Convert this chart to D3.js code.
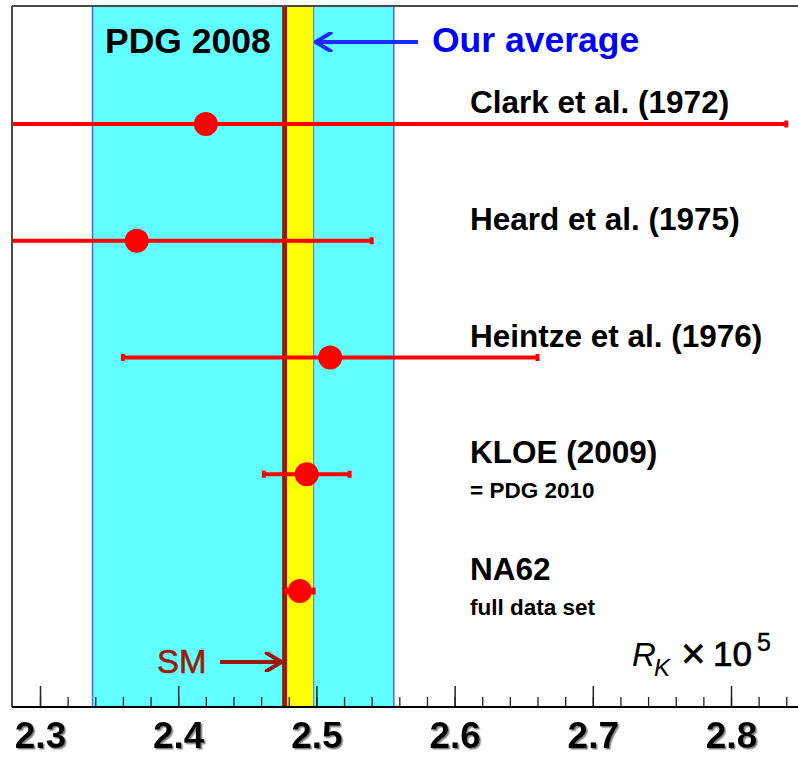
<!DOCTYPE html>
<html>
<head>
<meta charset="utf-8">
<script src="https://cdn.jsdelivr.net/npm/d3@7"></script>
<style>
  html, body { margin: 0; padding: 0; background: #fff; }
  svg { display: block; }
  text { font-family: "Liberation Sans", Arial, Helvetica, sans-serif; }
</style>
</head>
<body>
<svg id="chart" width="798" height="757"></svg>
<script>
// Measurements of R_K = Γ(K→eν)/Γ(K→μν), in units of 1e-5
const experiments = ["Clark et al. (1972)", "Heard et al. (1975)", "Heintze et al. (1976)", "KLOE (2009)", "NA62"];
const subLabels   = ["", "", "", "= PDG 2010", "full data set"];
const rkValues    = [2.42, 2.37, 2.51, 2.493, 2.488];
const rkErrors    = [0.42, 0.17, 0.15, 0.031, 0.010];

// Reference bands and Standard Model expectation
const pdg2008     = { value: 2.447, error: 0.109 };
const ourAverage  = { value: 2.488, error: 0.010 };
const smValue     = 2.477;

// Axis ticks
const majorTicks = [2.3, 2.4, 2.5, 2.6, 2.7, 2.8];
const minorTicks = [2.30, 2.32, 2.34, 2.36, 2.38, 2.40, 2.42, 2.44, 2.46, 2.48, 2.50,
                    2.52, 2.54, 2.56, 2.58, 2.60, 2.62, 2.64, 2.66, 2.68, 2.70,
                    2.72, 2.74, 2.76, 2.78, 2.80, 2.82, 2.84];
const tickLabels = ["2.3", "2.4", "2.5", "2.6", "2.7", "2.8"];

const W = 798, H = 757;
const frame = { left: 12, top: 6, bottom: 707, right: 798 };

const svg = d3.select("#chart");

const x = d3.scaleLinear().domain([2.3, 2.8]).range([40, 731]);
const y = d3.scalePoint().domain(experiments).range([124, 591]);

const defs = svg.append("defs");
defs.append("clipPath").attr("id", "plotClip")
  .append("rect")
  .attr("x", frame.left).attr("y", frame.top)
  .attr("width", frame.right - frame.left).attr("height", frame.bottom - frame.top);

const shadow = defs.append("filter").attr("id", "labelShadow")
  .attr("x", "-20%").attr("y", "-20%").attr("width", "140%").attr("height", "140%");
shadow.append("feDropShadow")
  .attr("dx", 1.5).attr("dy", 1.5).attr("stdDeviation", 0.6)
  .attr("flood-color", "#777").attr("flood-opacity", 0.9);

function arrowHead(color, id) {
  // open chevron marker, tip at the line end
  const m = defs.append("marker").attr("id", id)
    .attr("viewBox", "0 0 20 20").attr("refX", 18).attr("refY", 10)
    .attr("markerWidth", 20).attr("markerHeight", 20)
    .attr("markerUnits", "userSpaceOnUse")
    .attr("orient", "auto");
  m.append("path").attr("d", "M3,1 L18,10 L3,19")
    .attr("fill", "none").attr("stroke", color)
    .attr("stroke-width", 4).attr("stroke-linecap", "round").attr("stroke-linejoin", "round");
}
arrowHead("#1a2cff", "arrowBlue");
arrowHead("#9a1b0e", "arrowRed");

const plot = svg.append("g").attr("clip-path", "url(#plotClip)");

// PDG 2008 band
plot.append("rect")
  .attr("x", x(pdg2008.value - pdg2008.error))
  .attr("y", frame.top)
  .attr("width", x(pdg2008.value + pdg2008.error) - x(pdg2008.value - pdg2008.error))
  .attr("height", frame.bottom - frame.top)
  .attr("fill", "#61ffff");
[pdg2008.value - pdg2008.error, pdg2008.value + pdg2008.error].forEach(v => {
  plot.append("line")
    .attr("x1", x(v)).attr("x2", x(v))
    .attr("y1", frame.top).attr("y2", frame.bottom)
    .attr("stroke", "#4a66ff").attr("stroke-width", 1.5);
});

// Our average band
plot.append("rect")
  .attr("x", x(ourAverage.value - ourAverage.error))
  .attr("y", frame.top)
  .attr("width", x(ourAverage.value + ourAverage.error) - x(ourAverage.value - ourAverage.error))
  .attr("height", frame.bottom - frame.top)
  .attr("fill", "#ffff00");
plot.append("line")
  .attr("x1", x(ourAverage.value + ourAverage.error)).attr("x2", x(ourAverage.value + ourAverage.error))
  .attr("y1", frame.top).attr("y2", frame.bottom)
  .attr("stroke", "#6b86d6").attr("stroke-width", 1.2);

// Standard Model line
plot.append("line")
  .attr("x1", x(smValue)).attr("x2", x(smValue))
  .attr("y1", frame.top).attr("y2", frame.bottom)
  .attr("stroke", "#961b0f").attr("stroke-width", 5);

// Error bars
const pts = experiments.map((name, i) => ({
  name, sub: subLabels[i], v: rkValues[i], e: rkErrors[i]
}));

const bars = plot.append("g");
bars.selectAll("line.err").data(pts).join("line")
  .attr("class", "err")
  .attr("x1", d => x(d.v - d.e)).attr("x2", d => x(d.v + d.e))
  .attr("y1", d => y(d.name)).attr("y2", d => y(d.name))
  .attr("stroke", "#ff0000").attr("stroke-width", 4);

const caps = [];
pts.forEach(d => { caps.push({ name: d.name, at: d.v - d.e }); caps.push({ name: d.name, at: d.v + d.e }); });
bars.selectAll("rect.cap").data(caps).join("rect")
  .attr("class", "cap")
  .attr("x", d => x(d.at) - 2)
  .attr("y", d => y(d.name) - 3.5)
  .attr("width", 4).attr("height", 7)
  .attr("fill", "#ff0000");

bars.selectAll("circle").data(pts).join("circle")
  .attr("cx", d => x(d.v)).attr("cy", d => y(d.name))
  .attr("r", 12).attr("fill", "#ff0000");

// Frame
svg.append("line")
  .attr("x1", frame.left).attr("x2", frame.right)
  .attr("y1", frame.top).attr("y2", frame.top)
  .attr("stroke", "#4a4a4a").attr("stroke-width", 2);
svg.append("line")
  .attr("x1", frame.left).attr("x2", frame.left)
  .attr("y1", frame.top).attr("y2", frame.bottom)
  .attr("stroke", "#4a4a4a").attr("stroke-width", 2);

// X axis: ticks point up into the plot
const axisG = svg.append("g").attr("transform", `translate(0,${frame.bottom})`);
axisG.append("g")
  .call(d3.axisBottom(x).tickValues(minorTicks).tickSize(-10).tickFormat(""))
  .call(g => g.select(".domain").remove())
  .call(g => g.selectAll(".tick line").attr("stroke", "#222").attr("stroke-width", 1.3));
axisG.append("g")
  .call(d3.axisBottom(x).tickValues(majorTicks).tickSize(-21).tickPadding(15)
        .tickFormat((d, i) => tickLabels[i]))
  .call(g => g.select(".domain").remove())
  .call(g => g.selectAll(".tick line").attr("stroke", "#222").attr("stroke-width", 1.5))
  .call(g => g.selectAll(".tick text")
        .attr("font-family", "'Liberation Sans', Arial, sans-serif")
        .attr("font-size", 37).attr("font-weight", "bold").attr("fill", "#000")
        .attr("filter", "url(#labelShadow)"));
axisG.append("line")
  .attr("x1", frame.left).attr("x2", frame.right)
  .attr("y1", 0).attr("y2", 0)
  .attr("stroke", "#000").attr("stroke-width", 2);

// Experiment labels
const labels = svg.append("g");
labels.selectAll("text.main").data(pts).join("text")
  .attr("class", "main")
  .attr("x", 470).attr("y", d => y(d.name) - 11)
  .attr("font-size", 31.5).attr("font-weight", "bold").attr("fill", "#000")
  .text(d => d.name);
labels.selectAll("text.sub").data(pts.filter(d => d.sub)).join("text")
  .attr("class", "sub")
  .attr("x", 470).attr("y", d => y(d.name) + 24)
  .attr("font-size", 22.5).attr("font-weight", "bold").attr("fill", "#000")
  .text(d => d.sub);

// Band annotations
svg.append("text")
  .attr("x", 105).attr("y", 53)
  .attr("font-size", 35.5).attr("font-weight", "bold").attr("fill", "#000")
  .text("PDG 2008");
svg.append("text")
  .attr("x", 432).attr("y", 52)
  .attr("font-size", 35.5).attr("font-weight", "bold").attr("fill", "#0000ff")
  .text("Our average");
svg.append("line")
  .attr("x1", 418).attr("x2", x(ourAverage.value + ourAverage.error) + 2)
  .attr("y1", 42).attr("y2", 42)
  .attr("stroke", "#1a2cff").attr("stroke-width", 4)
  .attr("marker-end", "url(#arrowBlue)");

// SM annotation
svg.append("text")
  .attr("x", 157).attr("y", 673)
  .attr("font-size", 33).attr("fill", "#9a1b0e")
  .attr("stroke", "#9a1b0e").attr("stroke-width", 0.6)
  .text("SM");
svg.append("line")
  .attr("x1", 220).attr("x2", x(smValue) - 3)
  .attr("y1", 662).attr("y2", 662)
  .attr("stroke", "#9a1b0e").attr("stroke-width", 4)
  .attr("marker-end", "url(#arrowRed)");

// Axis title: R_K × 10^5
const serif = "'Liberation Serif', 'Times New Roman', serif";
const tg = svg.append("g").attr("fill", "#000");
tg.append("text").attr("x", 632).attr("y", 666)
  .attr("font-family", serif).attr("font-style", "italic").attr("font-size", 33).text("R");
tg.append("text").attr("x", 654).attr("y", 676)
  .attr("font-family", serif).attr("font-style", "italic").attr("font-size", 24).text("K");
tg.append("text").attr("x", 681).attr("y", 668)
  .attr("font-size", 42).attr("stroke", "#000").attr("stroke-width", 0.6).text("\u00d7");
tg.append("text").attr("x", 713).attr("y", 666)
  .attr("font-size", 35).attr("stroke", "#000").attr("stroke-width", 0.7).text("10");
tg.append("text").attr("x", 757).attr("y", 651)
  .attr("font-size", 25).attr("stroke", "#000").attr("stroke-width", 0.4).text("5");
</script>
</body>
</html>
